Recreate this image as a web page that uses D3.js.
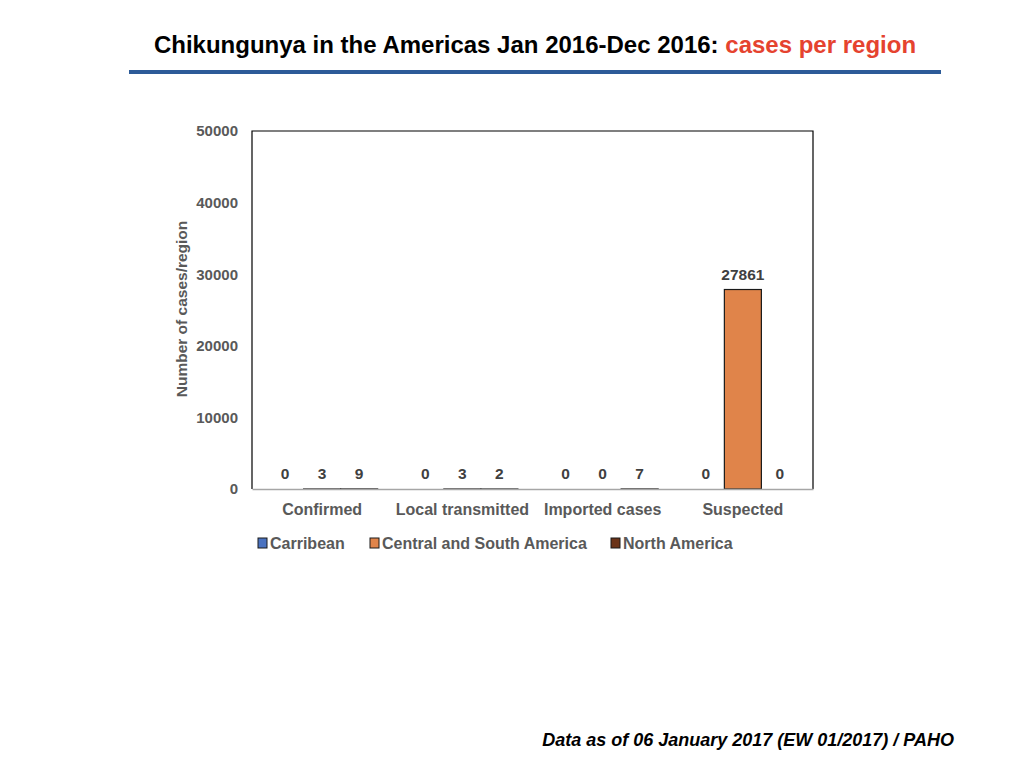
<!DOCTYPE html>
<head>
  <meta charset="utf-8">
  <script src="https://d3js.org/d3.v7.min.js"></script>
  <style>
    body { margin: 0; background: #fff; }
    text { font-family: "Liberation Sans", Arial, sans-serif; }
  </style>
</head>
<body>
  <div id="chart"></div>
</body>
<script>

// data
var categories = ["Confirmed", "Local transmitted", "Imported cases", "Suspected"];
var regions = ["Carribean", "Central and South America", "North America"];
var carribean = [0, 0, 0, 0];
var centralSouth = [3, 3, 0, 27861];
var northAmerica = [9, 2, 7, 0];
var yTicks = [0, 10000, 20000, 30000, 40000, 50000];

var colors = ["#4a72c0", "#e0844a", "#6b3318"];
var series = [carribean, centralSouth, northAmerica];

var svg = d3.select("#chart")
  .append("svg")
    .attr("width", 1024)
    .attr("height", 768);

// title
var title = svg.append("text")
  .attr("x", 535)
  .attr("y", 53)
  .attr("text-anchor", "middle")
  .style("font-size", "24px")
  .style("font-weight", "bold");
title.append("tspan").attr("fill", "#000").text("Chikungunya in the Americas Jan 2016-Dec 2016: ");
title.append("tspan").attr("fill", "#e5432f").text("cases per region");

svg.append("rect")
  .attr("x", 129).attr("y", 70)
  .attr("width", 812).attr("height", 4)
  .attr("fill", "#2d5b98");

// plot area
var margin = {left: 252, top: 131, right: 813, bottom: 489};
var width = margin.right - margin.left,
    height = margin.bottom - margin.top;

var g = svg.append("g")
  .attr("transform", "translate(" + margin.left + "," + margin.top + ")");

var x0 = d3.scaleBand()
  .domain(categories)
  .range([0, width])
  .paddingInner(0)
  .paddingOuter(0);

var x1 = d3.scaleBand()
  .domain(regions)
  .range([14.6, x0.bandwidth() - 14.6]);

var y = d3.scaleLinear()
  .domain([0, 50000])
  .range([height, 0]);

// frame: black left/top/right, grey bottom
g.append("path")
  .attr("d", "M0," + height + "V0H" + width + "V" + height)
  .attr("fill", "none")
  .attr("stroke", "#000")
  .attr("stroke-width", 1.2);

// y axis labels
var yAxis = g.append("g")
  .call(d3.axisLeft(y).tickValues(yTicks).tickSize(0).tickPadding(14).tickFormat(d3.format("d")));
yAxis.select(".domain").remove();
yAxis.selectAll("text")
  .attr("fill", "#595959")
  .style("font-size", "15px")
  .style("font-weight", "bold")
  .style("font-family", "Liberation Sans, Arial, sans-serif");

svg.append("text")
  .attr("transform", "translate(187,309) rotate(-90)")
  .attr("text-anchor", "middle")
  .attr("fill", "#595959")
  .style("font-size", "15.5px")
  .style("font-weight", "bold")
  .text("Number of cases/region");

// bars
var groups = g.selectAll(".grp")
  .data(categories)
  .enter()
  .append("g")
    .attr("transform", function (d) { return "translate(" + x0(d) + ",0)"; });

groups.selectAll("rect")
  .data(function (d, i) { return regions.map(function (r, j) { return {region: r, value: series[j][i], color: colors[j]}; }); })
  .enter()
  .append("rect")
    .attr("x", function (d) { return x1(d.region); })
    .attr("y", function (d) { return y(d.value); })
    .attr("width", x1.bandwidth())
    .attr("height", function (d) { return height - y(d.value); })
    .attr("fill", function (d) { return d.color; })
    .attr("stroke", function (d) { return d.value > 0 ? "#1a1a1a" : "none"; })
    .attr("stroke-width", 1.2);

groups.selectAll(".lbl")
  .data(function (d, i) { return regions.map(function (r, j) { return {region: r, value: series[j][i]}; }); })
  .enter()
  .append("text")
    .attr("x", function (d) { return x1(d.region) + x1.bandwidth() / 2; })
    .attr("y", function (d) { return y(d.value) - 10; })
    .attr("text-anchor", "middle")
    .attr("fill", "#404040")
    .style("font-size", "15.5px")
    .style("font-weight", "bold")
    .text(function (d) { return d.value; });

// bottom axis
var xAxis = g.append("g")
  .attr("transform", "translate(0," + height + ")")
  .call(d3.axisBottom(x0).tickSize(0).tickPadding(15));
xAxis.select(".domain").attr("stroke", "#a6a6a6").attr("stroke-width", 1.5);
xAxis.selectAll("text")
  .attr("fill", "#595959")
  .style("font-size", "16px")
  .style("font-weight", "bold")
  .style("font-family", "Liberation Sans, Arial, sans-serif");

// legend
var legendX = [258, 370, 611];
var legend = svg.selectAll(".leg")
  .data(regions)
  .enter()
  .append("g")
    .attr("transform", function (d, i) { return "translate(" + legendX[i] + ",538)"; });
legend.append("rect")
  .attr("width", 9).attr("height", 10)
  .attr("fill", function (d, i) { return colors[i]; })
  .attr("stroke", "#1a1a1a")
  .attr("stroke-width", 1);
legend.append("text")
  .attr("x", 12).attr("y", 11)
  .attr("fill", "#595959")
  .style("font-size", "16px")
  .style("font-weight", "bold")
  .text(function (d) { return d; });

// footer
svg.append("text")
  .attr("x", 954)
  .attr("y", 746)
  .attr("text-anchor", "end")
  .attr("fill", "#000")
  .style("font-size", "18px")
  .style("font-weight", "bold")
  .style("font-style", "italic")
  .text("Data as of 06 January 2017 (EW 01/2017) / PAHO");

</script>
